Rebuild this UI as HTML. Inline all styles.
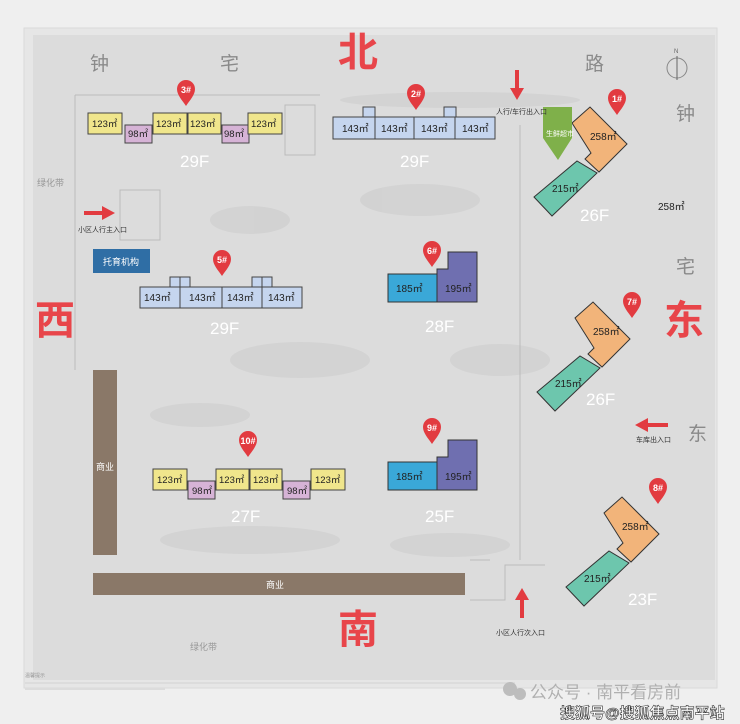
<!DOCTYPE html>
<html><head><meta charset="utf-8"><style>
html,body{margin:0;padding:0;background:#eeeeee;}
svg{display:block;font-family:"Liberation Sans","Noto Sans CJK SC",sans-serif;}
</style></head><body>
<svg width="740" height="724" viewBox="0 0 740 724" xmlns="http://www.w3.org/2000/svg">
<defs>
<g id="pin"><path d="M0,14 C-4,8 -9,3 -9,-3 A9,9 0 1,1 9,-3 C9,3 4,8 0,14 Z" fill="#e23b40"/></g>
</defs>
<rect width="740" height="724" fill="#efefef"/>
<rect x="24" y="28" width="693" height="660" fill="#e6e6e6" stroke="#dadada"/>
<rect x="33" y="35" width="682" height="645" fill="#dcdcdc"/>
<!-- faint tree blobs -->
<g fill="#cfcfcf" opacity="0.7">
<ellipse cx="250" cy="220" rx="40" ry="14"/><ellipse cx="420" cy="200" rx="60" ry="16"/>
<ellipse cx="300" cy="360" rx="70" ry="18"/><ellipse cx="500" cy="360" rx="50" ry="16"/>
<ellipse cx="250" cy="540" rx="90" ry="14"/><ellipse cx="450" cy="545" rx="60" ry="12"/>
<ellipse cx="200" cy="415" rx="50" ry="12"/><ellipse cx="460" cy="100" rx="120" ry="8"/>
</g>
<g fill="none" stroke="#bbb" stroke-width="1">
<path d="M75,95 H320 M75,95 V370 M520,125 V560 M490,560 H470 M470,600 H505 V565 H545"/>
<rect x="285" y="105" width="30" height="50"/><rect x="120" y="190" width="40" height="50"/>
</g>
<!-- road text -->
<g fill="#8a8a8a" font-size="19">
<text x="90" y="70">钟</text><text x="220" y="70">宅</text><text x="585" y="70">路</text>
<text x="676" y="120">钟</text><text x="676" y="273">宅</text><text x="688" y="440">东</text>
</g>
<g fill="#999" font-size="9"><text x="37" y="186">绿化带</text><text x="190" y="650">绿化带</text></g>
<!-- compass -->
<circle cx="677" cy="68" r="10" fill="none" stroke="#888"/><line x1="677" y1="56" x2="677" y2="80" stroke="#666"/>
<text x="674" y="53" font-size="6" fill="#666">N</text>
<!-- big direction characters -->
<g fill="#e8454a" font-size="40" font-weight="bold">
<text x="338" y="66">北</text><text x="35" y="334">西</text><text x="664" y="334">东</text><text x="338" y="643">南</text>
</g>
<!-- commerce -->
<rect x="93" y="370" width="24" height="185" fill="#8a7868"/>
<text x="96" y="470" font-size="9" fill="#fff">商业</text>
<rect x="93" y="573" width="372" height="22" fill="#8a7868"/>
<text x="266" y="588" font-size="9" fill="#fff">商业</text>
<rect x="93" y="249" width="57" height="24" fill="#2f6ea5"/>
<text x="103" y="265" font-size="9" fill="#fff">托育机构</text>
<!-- 3# -->
<g stroke="#444" stroke-width="1" font-size="10" fill="#222">
<rect x="88" y="113" width="34" height="21" fill="#f0e68c"/><rect x="125" y="125" width="27" height="18" fill="#d6b3d6"/>
<rect x="153" y="113" width="34" height="21" fill="#f0e68c"/><rect x="188" y="113" width="33" height="21" fill="#f0e68c"/>
<rect x="222" y="125" width="27" height="18" fill="#d6b3d6"/><rect x="248" y="113" width="34" height="21" fill="#f0e68c"/>
</g>
<g font-size="9.5" fill="#222">
<text x="92" y="127">123㎡</text><text x="128" y="137">98㎡</text><text x="156" y="127">123㎡</text><text x="190" y="127">123㎡</text><text x="224" y="137">98㎡</text><text x="251" y="127">123㎡</text>
</g>
<!-- 10# -->
<g stroke="#444" stroke-width="1">
<rect x="153" y="469" width="34" height="21" fill="#f0e68c"/><rect x="188" y="481" width="27" height="18" fill="#d6b3d6"/>
<rect x="216" y="469" width="33" height="21" fill="#f0e68c"/><rect x="250" y="469" width="32" height="21" fill="#f0e68c"/>
<rect x="283" y="481" width="27" height="18" fill="#d6b3d6"/><rect x="311" y="469" width="34" height="21" fill="#f0e68c"/>
</g>
<g font-size="9.5" fill="#222">
<text x="157" y="483">123㎡</text><text x="192" y="494">98㎡</text><text x="219" y="483">123㎡</text><text x="253" y="483">123㎡</text><text x="287" y="494">98㎡</text><text x="315" y="483">123㎡</text>
</g>
<!-- 2# -->
<g stroke="#444" fill="#c5d5ee">
<rect x="333" y="117" width="42" height="22"/><rect x="375" y="117" width="39" height="22"/><rect x="414" y="117" width="41" height="22"/><rect x="455" y="117" width="40" height="22"/>
<rect x="363" y="107" width="12" height="10"/><rect x="444" y="107" width="12" height="10"/>
</g>
<g font-size="10" fill="#222"><text x="342" y="132">143㎡</text><text x="381" y="132">143㎡</text><text x="421" y="132">143㎡</text><text x="462" y="132">143㎡</text></g>
<!-- 5# -->
<g stroke="#444" fill="#c5d5ee">
<rect x="140" y="287" width="40" height="21"/><rect x="180" y="287" width="42" height="21"/><rect x="222" y="287" width="40" height="21"/><rect x="262" y="287" width="40" height="21"/>
<rect x="170" y="277" width="10" height="10"/><rect x="180" y="277" width="10" height="10"/><rect x="252" y="277" width="10" height="10"/><rect x="262" y="277" width="10" height="10"/>
</g>
<g font-size="10" fill="#222"><text x="144" y="301">143㎡</text><text x="189" y="301">143㎡</text><text x="227" y="301">143㎡</text><text x="268" y="301">143㎡</text></g>
<!-- 6# & 9# -->
<g id="b6" stroke="#333">
<rect x="388" y="274" width="49" height="28" fill="#3aa8d8"/>
<path d="M437,302 V269 H448 V252 H477 V302 Z" fill="#6f6fb0"/>
</g>
<g transform="translate(0,188)" stroke="#333">
<rect x="388" y="274" width="49" height="28" fill="#3aa8d8"/>
<path d="M437,302 V269 H448 V252 H477 V302 Z" fill="#6f6fb0"/>
</g>
<g font-size="10" fill="#222"><text x="396" y="292">185㎡</text><text x="445" y="292">195㎡</text><text x="396" y="480">185㎡</text><text x="445" y="480">195㎡</text></g>
<!-- diagonal buildings template (7#) -->
<g id="d7" stroke="#333">
<path d="M575,318 L593,302 L630,339 L602,367 L588,354 L594,348 Z" fill="#f2b47a"/>
<path d="M537,392 L580,356 L600,368 L555,411 Z" fill="#6dc6ad"/>
<text x="593" y="335" font-size="10" fill="#222" stroke="none">258㎡</text>
<text x="555" y="387" font-size="10" fill="#222" stroke="none">215㎡</text>
</g>
<g transform="translate(-3,-195)" stroke="#333">
<path d="M575,318 L593,302 L630,339 L602,367 L588,354 L594,348 Z" fill="#f2b47a"/>
<path d="M537,392 L580,356 L600,368 L555,411 Z" fill="#6dc6ad"/>
<text x="593" y="335" font-size="10" fill="#222" stroke="none">258㎡</text>
<text x="555" y="387" font-size="10" fill="#222" stroke="none">215㎡</text>
</g>
<g transform="translate(29,195)" stroke="#333">
<path d="M575,318 L593,302 L630,339 L602,367 L588,354 L594,348 Z" fill="#f2b47a"/>
<path d="M537,392 L580,356 L600,368 L555,411 Z" fill="#6dc6ad"/>
<text x="593" y="335" font-size="10" fill="#222" stroke="none">258㎡</text>
<text x="555" y="387" font-size="10" fill="#222" stroke="none">215㎡</text>
</g>
<!-- green supermarket -->
<path d="M543,107 H572 V138 L558,160 L543,138 Z" fill="#7fb04a"/>
<text x="546" y="136" font-size="7" fill="#fff">生鲜超市</text>
<text x="658" y="210" font-size="10" fill="#222">258㎡</text>
<!-- floor labels -->
<g fill="#fff" font-size="17">
<text x="180" y="167">29F</text><text x="400" y="167">29F</text><text x="580" y="221">26F</text>
<text x="210" y="334">29F</text><text x="425" y="332">28F</text><text x="586" y="405">26F</text>
<text x="231" y="522">27F</text><text x="425" y="522">25F</text><text x="628" y="605">23F</text>
</g>
<!-- arrows -->
<g fill="#e23b40">
<rect x="515" y="70" width="4" height="20"/><path d="M510,88 H524 L517,100 Z"/>
<rect x="84" y="211" width="20" height="4"/><path d="M102,206 V220 L115,213 Z"/>
<rect x="646" y="423" width="22" height="4"/><path d="M648,418 V432 L635,425 Z"/>
<rect x="520" y="598" width="4" height="20"/><path d="M515,600 H529 L522,588 Z"/>
</g>
<g font-size="7" fill="#333">
<text x="496" y="114">人行/车行出入口</text><text x="78" y="232">小区人行主入口</text>
<text x="636" y="442">车库出入口</text><text x="496" y="635">小区人行次入口</text>
</g>
<!-- pins -->
<g>
<use href="#pin" x="186" y="92"/><use href="#pin" x="416" y="96"/><use href="#pin" x="617" y="101"/>
<use href="#pin" x="222" y="262"/><use href="#pin" x="432" y="253"/><use href="#pin" x="632" y="304"/>
<use href="#pin" x="432" y="430"/><use href="#pin" x="248" y="443"/><use href="#pin" x="658" y="490"/>
</g>
<g fill="#fff" font-size="9" font-weight="bold" text-anchor="middle">
<text x="186" y="93">3#</text><text x="416" y="97">2#</text><text x="617" y="102">1#</text>
<text x="222" y="263">5#</text><text x="432" y="254">6#</text><text x="632" y="305">7#</text>
<text x="432" y="431">9#</text><text x="248" y="444">10#</text><text x="658" y="491">8#</text>
</g>
<!-- footer -->
<text x="25" y="677" font-size="5" fill="#999">温馨提示</text>
<rect x="25" y="682" width="490" height="2" fill="#dcdcdc"/><rect x="25" y="688" width="140" height="2" fill="#dcdcdc"/>
<g fill="#bdbdbd"><circle cx="510" cy="689" r="7"/><circle cx="520" cy="694" r="6"/></g>
<text x="530" y="698" font-size="17" fill="#b0b0b0">公众号 · 南平看房前</text>
<text x="560" y="718" font-size="15" fill="#fff" stroke="#333" stroke-width="0.6" font-weight="bold">搜狐号@搜狐焦点南平站</text>
</svg>
</body></html>
